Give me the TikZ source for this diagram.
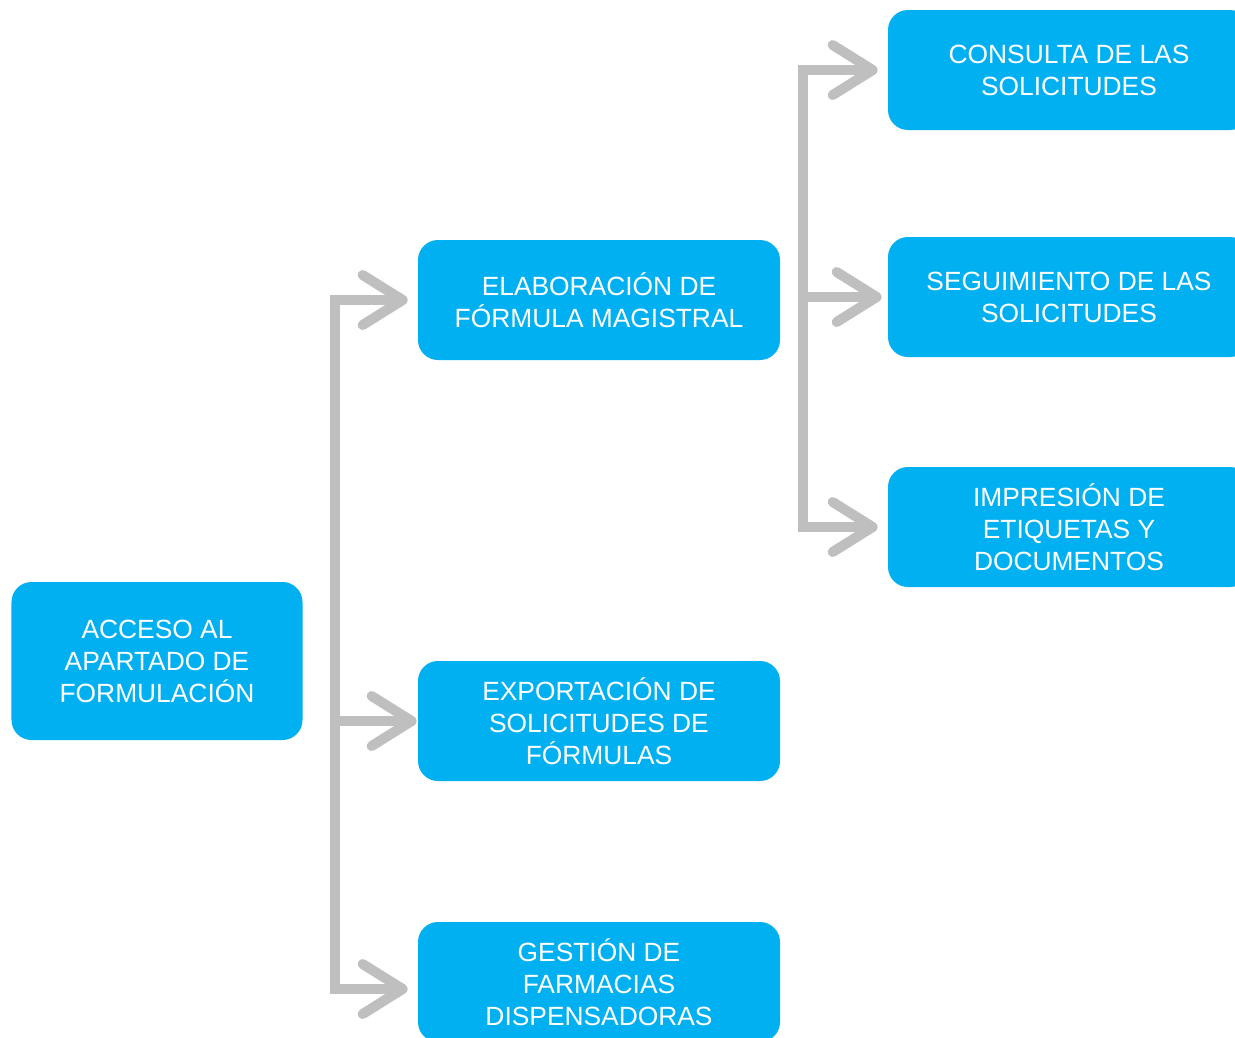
\documentclass[tikz,border=0pt]{standalone}
\usepackage{fontspec}
\setmainfont{Liberation Sans}
\usetikzlibrary{arrows.meta}
\definecolor{boxblue}{HTML}{00B0F0}
\definecolor{linegray}{HTML}{BFBFBF}

\begin{document}
\begin{tikzpicture}[
    box/.style={rectangle, rounded corners=0.4cm, fill=boxblue, text=white, align=center,
        minimum width=7.24cm, minimum height=2.4cm, inner sep=0pt,
        font=\fontsize{15}{18.2}\selectfont},
    conn/.style={line width=0.2cm, linegray, line join=miter},
    tipend/.style={-{Straight Barb[length=0.8cm, width=1.0cm, round]}, shorten >=0.2cm},
    tipboth/.style={{Straight Barb[length=0.8cm, width=1.0cm, round]}-{Straight Barb[length=0.8cm, width=1.0cm, round]},
        shorten <=0.2cm, shorten >=0.2cm}
]
    \useasboundingbox (0,0) rectangle (24.7,-20.74);

    % Start box
    \node[box, minimum width=5.82cm, minimum height=3.16cm] (acceso) at (3.14,-13.22) {ACCESO AL\\APARTADO DE\\FORMULACIÓN};

    % Second level
    \node[box] (elab) at (11.98,-6.0) {ELABORACIÓN DE\\FÓRMULA MAGISTRAL};
    \node[box] (export) at (11.98,-14.42) {EXPORTACIÓN DE\\SOLICITUDES DE\\FÓRMULAS};
    \node[box] (gestion) at (11.98,-19.64) {GESTIÓN DE\\FARMACIAS\\DISPENSADORAS};

    % Third level
    \node[box] (consulta) at (21.38,-1.4) {CONSULTA DE LAS\\SOLICITUDES};
    \node[box] (seguim) at (21.38,-5.94) {SEGUIMIENTO DE LAS\\SOLICITUDES};
    \node[box] (impresion) at (21.38,-10.54) {IMPRESIÓN DE\\ETIQUETAS Y\\DOCUMENTOS};

    % Spines
    \coordinate (lspine) at (6.7,0);
    \coordinate (rspine) at (16.06,0);

    % Left connectors
    \draw[conn, tipboth] (elab.west) -- (elab.west -| lspine) |- ([yshift=-0.14cm]gestion.west);
    \draw[conn, tipend, shorten >=0.02cm] (export.west -| lspine) -- (export.west);

    % Right connectors
    \draw[conn, tipboth] (consulta.west) -- (consulta.west -| rspine) |- (impresion.west);
    \draw[conn, tipend, shorten >=0.12cm] (seguim.west -| rspine) -- (seguim.west);

\end{tikzpicture}
\end{document}
